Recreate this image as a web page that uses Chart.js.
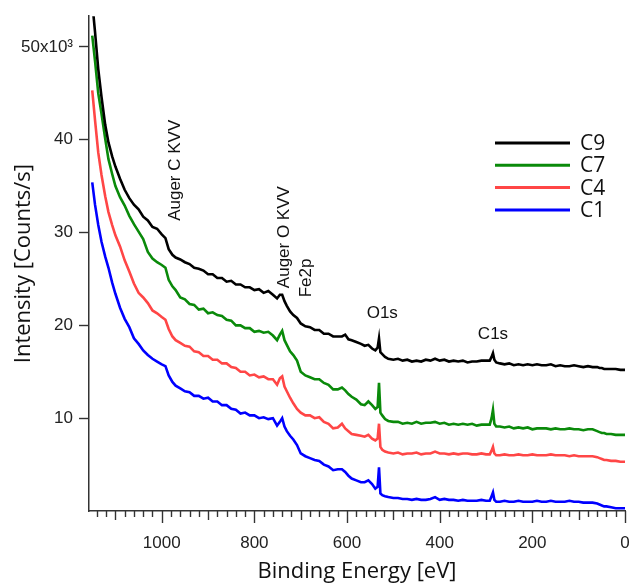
<!DOCTYPE html>
<html>
<head>
<meta charset="utf-8">
<script src="https://cdn.jsdelivr.net/npm/chart.js@4.4.1/dist/chart.umd.min.js"></script>
<style>
html, body { margin: 0; padding: 0; background: #fff; }
canvas { display: block; }
</style>
</head>
<body>
<canvas id="xps" width="632" height="586"></canvas>
<script>
// binding energy [eV], shared by the four survey spectra
const energy = [
  1150,1144,1137,1130,1122,1115,1107,1100,1090,1080,1070,1060,1050,1040,1030,1020,1010,1000,
  992,985,977,970,
  960,950,940,930,920,910,900,890,880,870,860,850,840,830,820,810,800,790,780,770,760,
  751,745,740,735,730,723,716,708,700,
  690,680,670,660,650,640,630,620,
  611,604,597,590,580,570,562,554,546,539,534,531,528,524,518,511,
  500,490,480,470,460,450,440,430,420,410,400,390,380,370,360,350,340,330,320,310,300,
  292,288,285,282,278,
  270,260,250,240,230,220,210,200,190,180,170,160,150,140,130,120,110,100,90,80,70,60,
  55,50,45,40,
  30,20,10,0
];

// intensity, x10^3 counts/s
const c9 = [
  54.8,51.6,47.6,44.6,41.6,39.7,38.2,37.1,35.8,34.6,33.7,33.0,32.5,31.7,31.3,30.6,30.4,29.8,
  29.4,28.2,27.6,27.3,
  27.1,26.8,26.6,26.2,26.1,25.9,25.5,25.5,25.1,25.1,24.7,24.8,24.4,24.4,24.1,24.1,23.8,23.9,23.5,23.7,23.3,
  22.9,23.3,23.3,22.6,22.1,21.5,21.1,20.8,20.2,
  19.9,19.8,19.5,19.5,19.1,19.1,18.8,18.8,
  18.8,19.0,18.5,18.4,18.2,18.0,17.8,17.9,17.5,17.3,17.6,18.6,17.1,16.9,16.6,16.4,
  16.3,16.4,16.2,16.3,16.1,16.2,16.1,16.3,16.2,16.4,16.2,16.3,16.1,16.2,16.1,16.2,16.0,16.1,16.1,16.2,16.2,
  16.2,16.6,17.0,16.3,16.0,
  15.9,15.8,15.9,15.7,15.8,15.7,15.8,15.7,15.8,15.7,15.7,15.8,15.6,15.7,15.6,15.6,15.7,15.6,15.5,15.6,15.5,15.5,
  15.4,15.4,15.3,15.3,
  15.3,15.3,15.2,15.2
];
const c7 = [
  51.2,48.5,45.0,42.8,40.1,37.9,36.3,35.0,33.8,32.9,31.8,30.9,30.1,29.3,27.9,27.2,26.8,26.5,
  26.2,24.9,24.2,23.8,
  23.0,22.8,22.3,22.2,21.7,21.8,21.3,21.4,21.1,21.0,20.6,20.5,20.0,20.0,19.7,19.7,19.3,19.4,19.2,19.3,18.9,
  18.4,19.0,19.4,18.4,17.9,17.2,16.8,16.2,15.0,
  14.6,14.4,14.2,14.2,13.8,13.6,13.1,13.1,
  13.3,13.0,12.6,12.3,12.0,11.5,11.4,11.8,11.4,11.0,11.2,13.8,10.6,10.3,9.9,9.7,
  9.6,9.6,9.4,9.5,9.4,9.6,9.4,9.5,9.5,9.6,9.4,9.5,9.3,9.4,9.3,9.4,9.3,9.4,9.2,9.3,9.3,
  9.3,10.0,10.9,9.4,9.1,
  9.1,9.0,9.1,8.9,9.0,8.9,9.0,8.8,8.9,8.9,8.9,8.8,8.9,8.8,8.8,8.9,8.8,8.8,8.7,8.8,8.8,8.6,
  8.5,8.4,8.4,8.3,
  8.3,8.2,8.2,8.2
];
const c4 = [
  45.3,42.1,38.6,36.2,33.9,32.2,30.8,29.7,28.5,27.0,25.8,24.5,23.5,23.0,22.4,21.6,21.3,20.9,
  20.6,19.6,18.8,18.4,
  18.1,17.8,17.7,17.2,17.1,16.7,16.7,16.3,16.3,15.9,15.9,15.5,15.4,15.0,15.0,14.6,14.7,14.4,14.5,14.2,14.2,
  13.6,14.3,14.5,13.4,12.9,12.2,11.6,11.0,10.6,
  10.3,10.3,10.0,10.1,9.6,9.4,8.9,9.0,
  9.4,8.9,8.6,8.3,8.2,8.1,8.0,8.2,7.8,7.6,7.8,9.4,6.9,6.6,6.4,6.3,
  6.2,6.3,6.1,6.2,6.2,6.3,6.1,6.2,6.2,6.4,6.2,6.2,6.1,6.2,6.1,6.2,6.2,6.1,6.1,6.2,6.1,
  6.1,6.5,6.9,6.2,6.0,
  6.0,6.1,6.0,6.0,6.1,6.0,6.0,6.1,6.0,6.0,6.0,6.1,6.0,6.0,6.0,5.9,6.0,5.9,5.9,5.9,5.9,5.8,
  5.7,5.6,5.5,5.5,
  5.4,5.4,5.3,5.3
];
const c1 = [
  35.4,33.0,30.8,29.0,27.4,26.2,24.6,23.4,21.9,20.7,19.8,18.6,18.0,17.3,16.8,16.4,16.1,15.8,
  15.6,14.6,13.9,13.5,
  13.2,12.9,12.8,12.4,12.4,12.1,12.2,11.8,11.8,11.4,11.4,11.0,10.9,10.5,10.6,10.3,10.3,10.0,10.1,9.9,10.0,
  9.2,9.6,10.0,9.1,8.6,8.1,7.7,7.1,6.2,
  5.9,5.7,5.5,5.4,5.0,4.8,4.4,4.5,
  4.5,4.2,3.8,3.5,3.3,3.1,3.1,3.3,2.9,2.4,2.6,4.7,1.9,1.7,1.6,1.5,
  1.4,1.4,1.3,1.3,1.2,1.3,1.2,1.2,1.3,1.5,1.2,1.3,1.2,1.2,1.1,1.2,1.1,1.1,1.1,1.2,1.1,
  1.1,1.6,2.0,1.2,1.0,
  1.0,1.1,1.0,1.0,1.1,1.0,1.0,1.0,1.1,1.0,1.0,1.1,1.0,1.0,1.0,1.1,1.0,1.0,0.9,0.9,0.9,0.8,
  0.7,0.6,0.5,0.5,
  0.4,0.3,0.3,0.3
];

const seriesNames = ['C9', 'C7', 'C4', 'C1'];
const seriesData = [c9, c7, c4, c1];
const seriesColors = ['#000000', '#0a8a0a', '#ff4646', '#0000ff'];

const yTickValues = [10, 20, 30, 40, 50];
const xLabelValues = [0, 200, 400, 600, 800, 1000];

// peak labels, anchored in data units (energy, intensity)
const peakLabels = [
  { text: 'Auger C KVV', e: 971, v: 36.7, vertical: true },
  { text: 'Auger O KVV', e: 736, v: 29.5, vertical: true },
  { text: 'Fe2p', e: 688, v: 25.1, vertical: true },
  { text: 'O1s', e: 524, v: 21.3, vertical: false },
  { text: 'C1s', e: 285, v: 19.0, vertical: false }
];

const axisColor = '#333';

const extras = {
  id: 'extras',
  afterDraw(chart) {
    const ctx = chart.ctx;
    const xs = chart.scales.x, ys = chart.scales.y;
    const base = chart.chartArea.bottom;
    ctx.save();

    // x ticks: every 20 eV, longer at 100 and 200
    ctx.strokeStyle = axisColor;
    ctx.lineWidth = 1.4;
    for (let e = 0; e <= 1140; e += 20) {
      const px = Math.round(xs.getPixelForValue(e)) + 0.5;
      const len = e % 200 === 0 ? 12 : (e % 100 === 0 ? 9 : 6);
      ctx.beginPath();
      ctx.moveTo(px, base);
      ctx.lineTo(px, base + len);
      ctx.stroke();
    }

    // peak annotations
    ctx.fillStyle = '#111';
    ctx.font = '17px "Liberation Sans", Arial, sans-serif';
    ctx.textAlign = 'center';
    ctx.textBaseline = 'middle';
    peakLabels.forEach(p => {
      const px = xs.getPixelForValue(p.e);
      const py = ys.getPixelForValue(p.v);
      ctx.save();
      ctx.translate(px, py);
      if (p.vertical) ctx.rotate(-Math.PI / 2);
      ctx.fillText(p.text, 0, 0);
      ctx.restore();
    });

    // legend
    ctx.font = '21px "Open Sans", sans-serif';
    ctx.textAlign = 'left';
    chart.data.datasets.forEach((ds, i) => {
      const ly = 143 + i * 22.3;
      ctx.strokeStyle = ds.borderColor;
      ctx.lineWidth = 3;
      ctx.beginPath();
      ctx.moveTo(495, ly);
      ctx.lineTo(570, ly);
      ctx.stroke();
      ctx.fillStyle = '#111';
      ctx.fillText(ds.label, 580, ly + 1);
    });
    ctx.restore();
  }
};

new Chart(document.getElementById('xps'), {
  type: 'line',
  data: {
    datasets: seriesNames.map((name, i) => ({
      label: name,
      data: energy.map((e, j) => ({ x: e, y: seriesData[i][j] })),
      borderColor: seriesColors[i],
      borderWidth: 2.6,
      pointRadius: 0,
      tension: 0,
      fill: false
    }))
  },
  options: {
    responsive: false,
    devicePixelRatio: 1,
    animation: false,
    layout: { padding: { top: 10, right: 7, left: 0, bottom: 0 } },
    plugins: { legend: { display: false }, tooltip: { enabled: false } },
    scales: {
      x: {
        type: 'linear',
        reverse: true,
        min: 0,
        max: 1157,
        afterBuildTicks: s => { s.ticks = xLabelValues.map(v => ({ value: v })); },
        afterFit: s => { s.height = 75; },
        ticks: {
          autoSkip: false,
          maxRotation: 0,
          padding: 22,
          color: '#222',
          font: { family: '"Liberation Sans", Arial, sans-serif', size: 17 },
          callback: v => String(v)
        },
        grid: { drawOnChartArea: false, drawTicks: false },
        border: { display: true, color: axisColor, width: 1.5 },
        title: {
          display: true,
          text: 'Binding Energy [eV]',
          color: '#111',
          font: { family: '"Open Sans", sans-serif', size: 22 },
          padding: { top: 0, bottom: 1 }
        }
      },
      y: {
        type: 'linear',
        min: 0,
        max: 53.3,
        afterBuildTicks: s => { s.ticks = yTickValues.map(v => ({ value: v })); },
        afterFit: s => { s.width = 89; },
        ticks: {
          padding: 6,
          color: '#222',
          font: { family: '"Liberation Sans", Arial, sans-serif', size: 17 },
          callback: v => (v === 50 ? '50x10\u00B3' : String(v))
        },
        grid: { drawOnChartArea: false, drawTicks: true, tickLength: 10, tickColor: axisColor, tickWidth: 1.4 },
        border: { display: true, color: axisColor, width: 1.5 },
        title: {
          display: true,
          text: 'Intensity [Counts/s]',
          color: '#111',
          font: { family: '"Open Sans", sans-serif', size: 22 },
          padding: { top: 11, bottom: 0 }
        }
      }
    }
  },
  plugins: [extras]
});
</script>
</body>
</html>
